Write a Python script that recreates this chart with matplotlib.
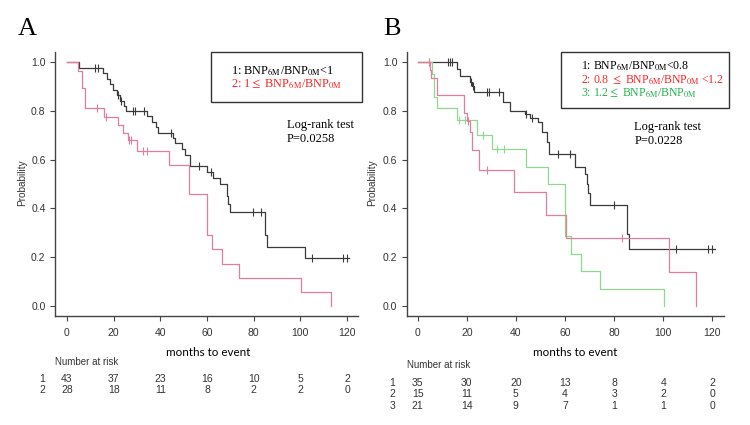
import matplotlib
matplotlib.use("Agg")
import matplotlib.pyplot as plt
from matplotlib.patches import Rectangle
from matplotlib.transforms import blended_transform_factory

plt.rcParams['mathtext.fontset'] = 'stix'
plt.rcParams['font.family'] = ['Liberation Sans', 'DejaVu Sans']

# ---- Panel A : Kaplan-Meier data ----
a1_times = [5, 15.6, 17, 18.4, 19.9, 21.3, 22.7, 24.4, 25.3, 34.1, 36.3, 38.1, 39.1,
            45.6, 46.3, 49.1, 50.6, 52.7, 60.1, 62.7, 65.6, 68.4, 69.1, 69.9, 84.9, 85.9, 102]
a1_surv = [0.977, 0.955, 0.93, 0.91, 0.885, 0.865, 0.84, 0.82, 0.80, 0.78, 0.755, 0.735, 0.71,
           0.69, 0.67, 0.645, 0.62, 0.575, 0.55, 0.525, 0.50, 0.45, 0.42, 0.385, 0.29, 0.243, 0.195]
a1_cens = [12, 13.4, 22, 23, 28.1, 29, 33, 44.4, 56.7, 61.6, 79.9, 83, 105.1, 118.4, 120.1]
a1_end = 121

a2_times = [4.9, 6.3, 7.7, 15.9, 22, 24.1, 26.3, 29.9, 43.9, 52.4, 60.1, 62, 66.3, 73.9, 100.1, 113]
a2_surv = [0.964, 0.893, 0.81, 0.774, 0.74, 0.71, 0.68, 0.636, 0.576, 0.46, 0.29, 0.232,
           0.174, 0.116, 0.058, 0.0]
a2_cens = [12.7, 16.7, 26.8, 27.6, 32.7, 34.4]
a2_end = 113

# ---- Panel B ----
b1_times = [15.9, 17.2, 21.3, 22.0, 23.1, 34.9, 37.6, 43.7, 45.8, 49.1, 50.5, 52.5, 53.3,
            64.1, 68.2, 68.9, 69.5, 70.2, 85.1, 86]
b1_surv = [0.971, 0.943, 0.92, 0.90, 0.877, 0.837, 0.80, 0.785, 0.769, 0.755, 0.712, 0.671, 0.623,
           0.571, 0.54, 0.50, 0.465, 0.412, 0.295, 0.235]
b1_cens = [12.2, 13.2, 14.1, 21.6, 22.5, 28.1, 29.1, 33.1, 44, 46.4, 57.3, 62, 80, 105.2, 118.4, 119.8]
b1_end = 121

b2_times = [5, 5.5, 7.7, 19, 20, 21.3, 22, 25.1, 39.2, 52.1, 60.3, 102.3, 113.2]
b2_surv = [0.967, 0.933, 0.864, 0.793, 0.76, 0.714, 0.64, 0.558, 0.467, 0.374, 0.28, 0.14, 0.0]
b2_cens = [4.6, 20.5, 28.1, 83.3]
b2_end = 113.2

b3_times = [5.7, 6.6, 7.7, 15.9, 24, 30.1, 44.1, 53.2, 60, 62.3, 66.4, 74.3, 100.4]
b3_surv = [0.952, 0.857, 0.81, 0.762, 0.70, 0.643, 0.571, 0.50, 0.286, 0.214, 0.143, 0.071, 0.0]
b3_cens = [4.5, 17, 19.3, 26.7, 32.4, 35.2]
b3_end = 100.4

# ---- Number at risk ----
risk_times = [0, 20, 40, 60, 80, 100, 120]
risk_a = [[43, 37, 23, 16, 10, 5, 2],
          [28, 18, 11, 8, 2, 2, 0]]
risk_b = [[35, 30, 20, 13, 8, 4, 2],
          [15, 11, 5, 4, 3, 2, 0],
          [21, 14, 9, 7, 1, 1, 0]]

BLACK = '#3a3a3a'
PINK = '#e27d9c'
GREEN = '#8fd88f'
TXT_RED = '#ff2222'
TXT_GREEN = '#22b24c'
GRAY = '#444444'

W, H = 750, 425
fig = plt.figure(figsize=(7.5, 4.25), dpi=100)


def fx(px):
    return px / W


def fy(py):
    return 1 - py / H


def surv_at(times, surv, t):
    s = 1.0
    for ti, si in zip(times, surv):
        if ti <= t:
            s = si
    return s


def km(ax, times, surv, cens, end, color):
    x = [0] + list(times)
    y = [1.0] + list(surv)
    if end > x[-1]:
        x.append(end)
        y.append(y[-1])
    ax.step(x, y, where='post', color=color, lw=0.9)
    ax.plot(cens, [surv_at(times, surv, c) for c in cens], ls='none', marker='|',
            ms=6, mew=0.8, color=color)


def style(ax, xlim):
    ax.set_xlim(*xlim)
    ax.set_ylim(-0.041, 1.041)
    for s in ['top', 'right']:
        ax.spines[s].set_visible(False)
    for s in ['left', 'bottom']:
        ax.spines[s].set_color(GRAY)
        ax.spines[s].set_linewidth(1.0)
    ax.set_xticks(risk_times)
    ax.set_yticks([0, 0.2, 0.4, 0.6, 0.8, 1.0])
    ax.set_yticklabels(['0.0', '0.2', '0.4', '0.6', '0.8', '1.0'])
    ax.tick_params(axis='both', direction='out', length=3.3, width=0.8, color=GRAY,
                   labelsize=7.5, labelcolor='#333333')
    ax.tick_params(axis='x', pad=5)
    ax.tick_params(axis='y', pad=3.5)


def risk_table(ax, rows, title_xy, row_ys, label_x):
    fig.text(fx(title_xy[0]), fy(title_xy[1]), 'Number at risk', fontsize=7,
             color='#333333', ha='left', va='center')
    tr = blended_transform_factory(ax.transData, fig.transFigure)
    for i, (row, ry) in enumerate(zip(rows, row_ys)):
        fig.text(fx(label_x), fy(ry), str(i + 1), fontsize=7.5, color='#333333',
                 ha='center', va='center')
        for t, n in zip(risk_times, row):
            fig.text(t, fy(ry), str(n), transform=tr, fontsize=7.5, color='#333333',
                     ha='center', va='center')


# Panel A
axA = fig.add_axes([fx(55), fy(316), fx(358) - fx(55), fy(52) - fy(316)])
km(axA, a1_times, a1_surv, a1_cens, a1_end, BLACK)
km(axA, a2_times, a2_surv, a2_cens, a2_end, PINK)
style(axA, (-5.1, 124.7))

# Panel B
axB = fig.add_axes([fx(406.7), fy(316), fx(724) - fx(406.7), fy(52) - fy(316)])
km(axB, b1_times, b1_surv, b1_cens, b1_end, BLACK)
km(axB, b3_times, b3_surv, b3_cens, b3_end, GREEN)
km(axB, b2_times, b2_surv, b2_cens, b2_end, PINK)
style(axB, (-4.5, 124.8))

# axis labels
for xp in [22, 372]:
    fig.text(fx(xp), fy(183), 'Probability', rotation=90, fontsize=7.2, color='#333333',
             ha='center', va='center')
fig.text(fx(207.7), fy(353), 'months to event', family='Lato', fontsize=8.4,
         ha='center', va='center')
fig.text(fx(575), fy(353), 'months to event', family='Lato', fontsize=8.4,
         ha='center', va='center')

risk_table(axA, risk_a, (55, 361.7), [378.8, 389.7], 42.3)
risk_table(axB, risk_b, (406.7, 364.5), [382.5, 394.2, 405.8], 392.3)

# panel letters
fig.text(fx(18), fy(35), 'A', family='Liberation Serif', fontsize=19, va='baseline')
fig.text(fx(383), fy(35), 'B', family='Liberation Serif', fontsize=19, va='baseline')

# legend boxes
SERIF = 'Liberation Serif'
fig.patches.append(Rectangle((fx(210.7), fy(102.3)), fx(361.7) - fx(210.7), fy(51.7) - fy(102.3),
                             transform=fig.transFigure, fill=False, ec='#333333', lw=1.0))
fig.text(fx(230.7), fy(74), r'1: BNP$_{\mathrm{6M}}$/BNP$_{\mathrm{0M}}$<1',
         family=SERIF, fontsize=8.8, va='baseline')
fig.text(fx(230.7), fy(87.3), r'2: 1$\leq$ BNP$_{\mathrm{6M}}$/BNP$_{\mathrm{0M}}$',
         family=SERIF, fontsize=8.8, va='baseline', color=TXT_RED)

fig.patches.append(Rectangle((fx(561), fy(108.3)), fx(729.3) - fx(561), fy(51.7) - fy(108.3),
                             transform=fig.transFigure, fill=False, ec='#333333', lw=1.0))
fig.text(fx(580.7), fy(69.3), r'1: BNP$_{\mathrm{6M}}$/BNP$_{\mathrm{0M}}$<0.8',
         family=SERIF, fontsize=8.5, va='baseline')
fig.text(fx(580.7), fy(83.3), r'2: 0.8 $\leq$ BNP$_{\mathrm{6M}}$/BNP$_{\mathrm{0M}}$ <1.2',
         family=SERIF, fontsize=8.5, va='baseline', color=TXT_RED)
fig.text(fx(580.7), fy(96.7), r'3: 1.2$\leq$ BNP$_{\mathrm{6M}}$/BNP$_{\mathrm{0M}}$',
         family=SERIF, fontsize=8.5, va='baseline', color=TXT_GREEN)

# log-rank annotations
fig.text(fx(286.7), fy(127.7), 'Log-rank test', family=SERIF, fontsize=9, va='baseline')
fig.text(fx(286.7), fy(141.7), 'P=0.0258', family=SERIF, fontsize=9, va='baseline')
fig.text(fx(634.3), fy(130), 'Log-rank test', family=SERIF, fontsize=9, va='baseline')
fig.text(fx(634.3), fy(144), 'P=0.0228', family=SERIF, fontsize=9, va='baseline')

fig.savefig('out.png', dpi=100)
